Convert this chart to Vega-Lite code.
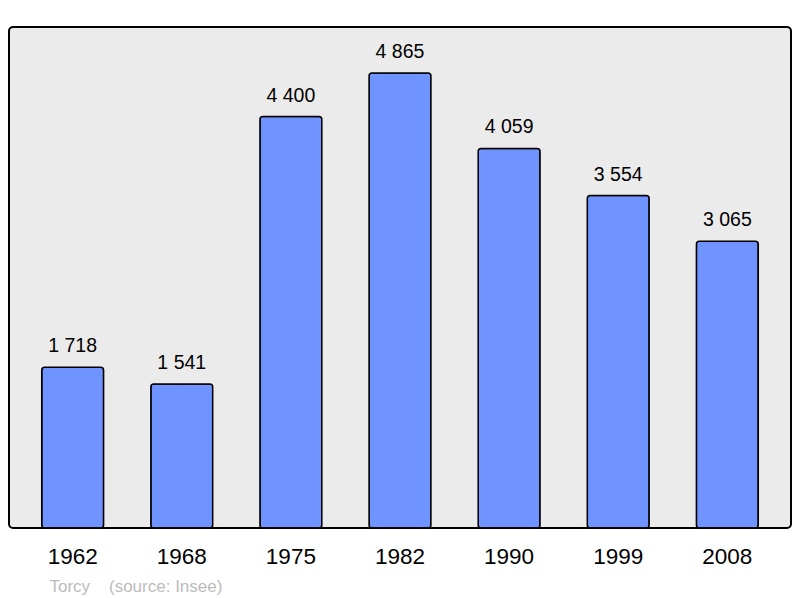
{
  "$schema": "https://vega.github.io/schema/vega-lite/v6.json",
  "width": 782,
  "height": 501,
  "autosize": "none",
  "padding": {"left": 9, "top": 27, "right": 9, "bottom": 70},
  "background": "white",
  "config": {
    "view": {"fill": "#ebebeb", "stroke": "#000000", "strokeWidth": 2, "cornerRadius": 4},
    "font": "Liberation Sans"
  },
  "data": {
    "values": [
      {"year": "1962", "pop": 1718, "label": "1 718"},
      {"year": "1968", "pop": 1541, "label": "1 541"},
      {"year": "1975", "pop": 4400, "label": "4 400"},
      {"year": "1982", "pop": 4865, "label": "4 865"},
      {"year": "1990", "pop": 4059, "label": "4 059"},
      {"year": "1999", "pop": 3554, "label": "3 554"},
      {"year": "2008", "pop": 3065, "label": "3 065"}
    ]
  },
  "encoding": {
    "x": {
      "field": "year", "type": "ordinal",
      "scale": {"paddingInner": 0.433, "paddingOuter": 0.3},
      "axis": {
        "title": "Torcy\u00a0\u00a0\u00a0\u00a0(source: Insee)",
        "titleColor": "#bbbbbb", "titleFontSize": 17, "titleFontWeight": "normal",
        "titleAnchor": "start", "titleAlign": "left", "titleBaseline": "alphabetic",
        "titleX": 40, "titleY": 63,
        "labelAngle": 0, "labelFontSize": 22.5, "labelColor": "#000000",
        "labelBaseline": "alphabetic", "labelPadding": 35.5,
        "ticks": false, "tickSize": 0, "domain": false, "grid": false
      }
    },
    "y": {
      "field": "pop", "type": "quantitative",
      "scale": {"domain": [0, 5357], "nice": false},
      "axis": null
    }
  },
  "layer": [
    {
      "mark": {"type": "bar", "color": "#7094ff", "stroke": "#000000", "strokeWidth": 1.5, "cornerRadius": 3}
    },
    {
      "mark": {"type": "text", "baseline": "alphabetic", "dy": -15, "fontSize": 19.5, "color": "#000000"},
      "encoding": {"text": {"field": "label"}}
    }
  ]
}
